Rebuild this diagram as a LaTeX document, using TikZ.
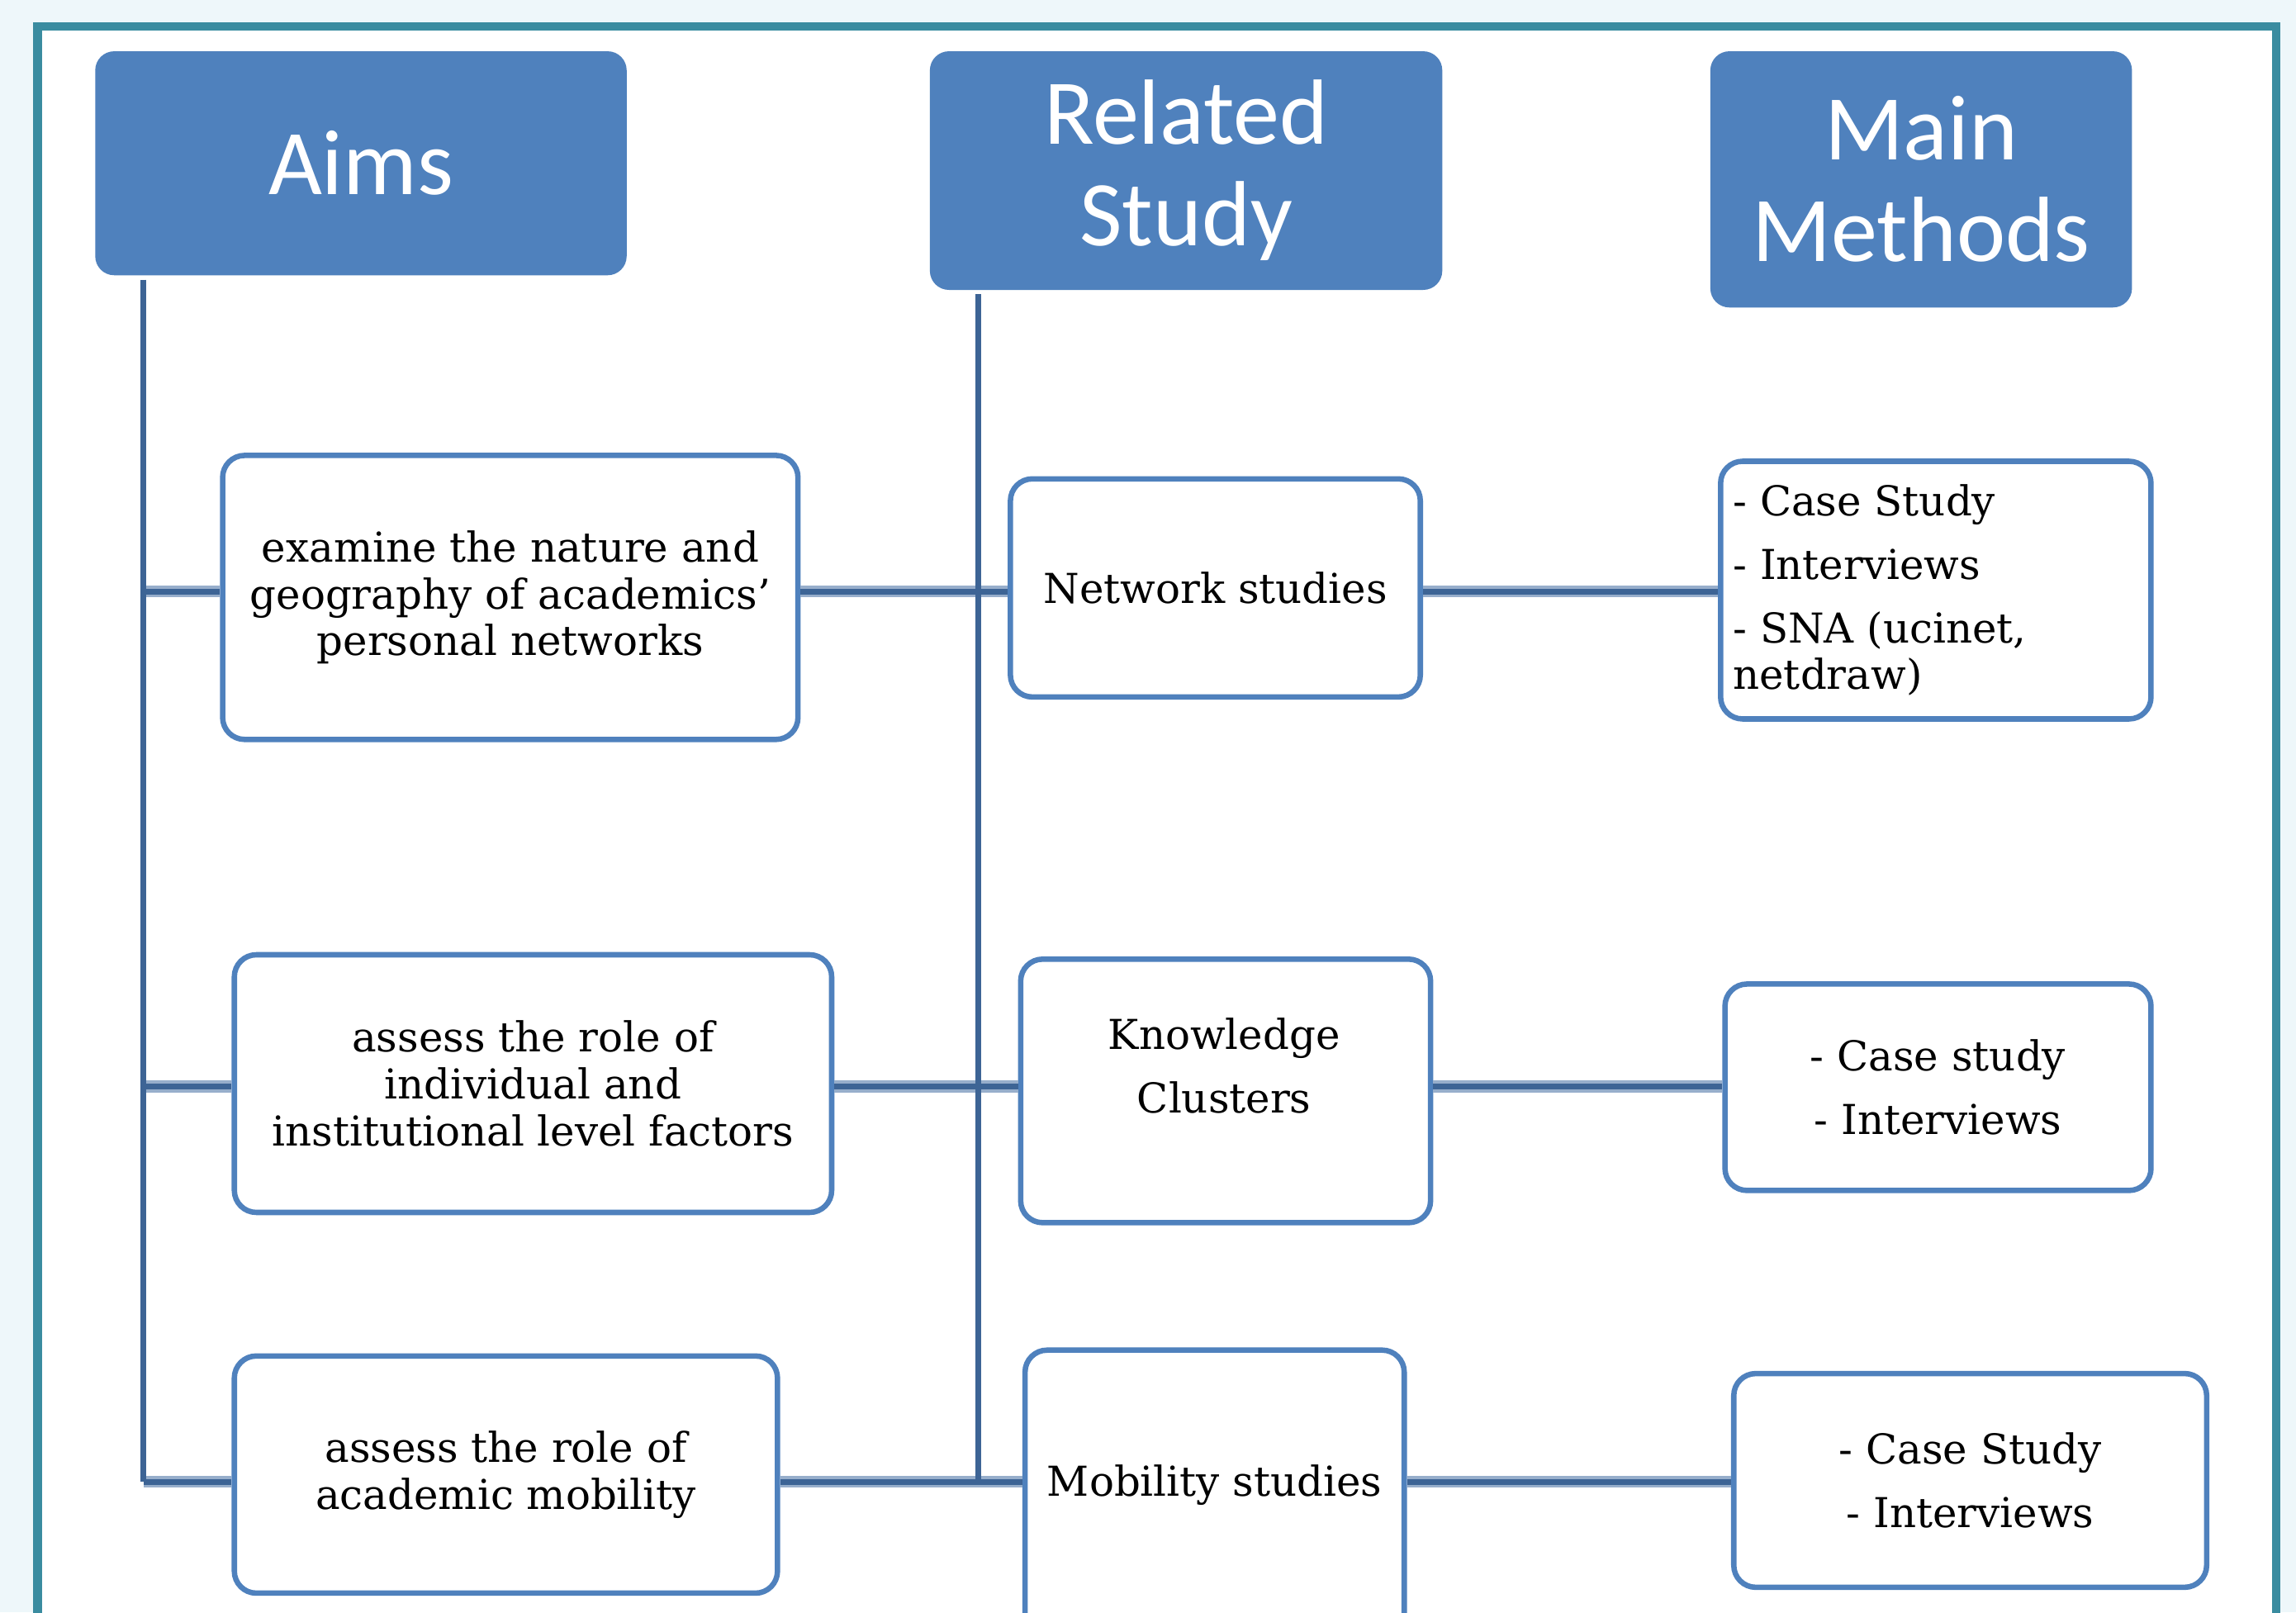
\documentclass[tikz,border=0pt]{standalone}
\usepackage{fontspec}
\setmainfont{DejaVu Serif}
\newfontfamily\headfont{Carlito}
\definecolor{hdr}{HTML}{4F81BD}
\definecolor{boxc}{HTML}{4F81BD}
\definecolor{connc}{HTML}{3D6495}
\definecolor{connlight}{HTML}{97AECB}
\definecolor{framec}{HTML}{3A8CA0}
\definecolor{bgc}{HTML}{EEF7FA}
\begin{document}
\begin{tikzpicture}[x=0.02cm,y=-0.02cm,
 hdrbox/.style={draw=none, fill=hdr, rounded corners=0.26cm, text=white, font=\headfont\fontsize{36}{39.5}\selectfont, align=center, inner sep=0pt},
 itembox/.style={draw=boxc, line width=2.1pt, fill=white, rounded corners=0.3cm, align=center, font=\fontsize{16}{18.2}\selectfont, inner sep=0pt},
 txt/.style={inner sep=0pt, font=\fontsize{16}{18.2}\selectfont},
 vconn/.style={draw=connc, line width=2.2pt},
 hconn/.style={draw=connlight, line width=4.6pt, postaction={draw=connc, line width=2.4pt}}]
\useasboundingbox (0,0) rectangle (1568,1101);
\fill[bgc] (0,0) rectangle (1568,1101);
\draw[draw=framec, line width=0.12cm, fill=white] (25.5,18) rectangle (1554.5,1140);

% connector coordinates
\coordinate (r1) at (0,404);
\coordinate (r2) at (0,742);
\coordinate (r3) at (0,1012);
\coordinate (aimtop) at (98,191);
\coordinate (reltop) at (668,201);

% headers
\node[hdrbox, minimum width=7.26cm, minimum height=3.06cm] (aims) at (246.5,111.5) {Aims};
\node[hdrbox, minimum width=7.0cm, minimum height=3.26cm] (rel) at (810,116.5) {Related\\Study};
\node[hdrbox, minimum width=5.76cm, minimum height=3.5cm] (meth) at (1312,122.5) {Main\\Methods};

% boxes (placed first so connectors can refer to them)
\node[itembox, minimum width=7.86cm, minimum height=3.88cm] (aim1) at (348.5,408) {examine the nature and\\geography of academics'\\personal networks};
\node[itembox, minimum width=5.6cm, minimum height=2.98cm] (net) at (830,401.5) {Network studies};
\node[itembox, minimum width=5.88cm, minimum height=3.52cm] (m1) at (1322,403) {};
\node[txt, anchor=west, align=left] (m1t) at ([xshift=0.2cm]m1.west) {- Case Study\\[6.5pt]- Interviews\\[6.5pt]- SNA (ucinet,\\netdraw)};

\node[itembox, minimum width=8.16cm, minimum height=3.52cm] (aim2) at (364,740) {assess the role of\\individual and\\institutional level factors};
\node[itembox, minimum width=5.6cm, minimum height=3.6cm] (kc) at (837,745) {};
\node[txt, align=center] (kct) at (836,728) {Knowledge\\[6.5pt]Clusters};
\node[itembox, minimum width=5.82cm, minimum height=2.82cm] (m2) at (1323.5,742.5) {- Case study\\[6.5pt]- Interviews};

\node[itembox, minimum width=7.42cm, minimum height=3.24cm] (aim3) at (345.5,1007) {assess the role of\\academic mobility};
\node[itembox, minimum width=5.18cm, minimum height=3.96cm] (mob) at (829.5,1021) {};
\node[txt] (mobt) at (829.5,1014) {Mobility studies};
\node[itembox, minimum width=6.46cm, minimum height=2.92cm] (m3) at (1345.5,1011) {- Case Study\\[6.5pt]- Interviews};

% horizontal connectors
\draw[hconn] (aimtop |- r1) -- (aim1.west |- r1);
\draw[hconn] (aimtop |- r2) -- (aim2.west |- r2);
\draw[hconn] (aimtop |- r3) -- (aim3.west |- r3);
\draw[hconn] (aim1.east |- r1) -- (net.west |- r1);
\draw[hconn] (aim2.east |- r2) -- (kc.west |- r2);
\draw[hconn] (aim3.east |- r3) -- (mob.west |- r3);
\draw[hconn] (net.east |- r1) -- (m1.west |- r1);
\draw[hconn] (kc.east |- r2) -- (m2.west |- r2);
\draw[hconn] (mob.east |- r3) -- (m3.west |- r3);

% vertical connectors
\draw[vconn] (aimtop) -- (aimtop |- r3);
\draw[vconn] (reltop) -- (reltop |- r3);
\end{tikzpicture}
\end{document}
